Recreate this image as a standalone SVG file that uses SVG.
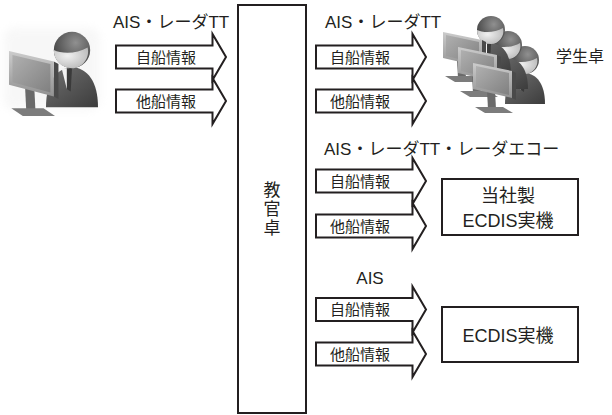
<svg xmlns="http://www.w3.org/2000/svg" width="612" height="415" viewBox="0 0 612 415">
  <style>
    .ln{fill:none;stroke:#231f20;stroke-width:2;stroke-linejoin:miter}
    .box{fill:#fff;stroke:#231f20;stroke-width:2}
    text{font-family:"Liberation Sans","Noto Sans CJK JP",sans-serif;fill:#231f20}
    .t17{font-size:17px}
    .t16{font-size:16px}
    .t15{font-size:15px}
    .t18{font-size:18px}
    .mid{text-anchor:middle}
  </style>
  <defs>
    <!-- block arrow, origin at the left end of the shaft centre line -->
    <path id="arrow" class="ln" d="M0,-11.5 H96.5 V-23 L110,0 L96.5,23 V11.5 H0 Z"/>

    <linearGradient id="gScreen" x1="0" y1="0" x2="1" y2="1">
      <stop offset="0" stop-color="#b0b0b0"/>
      <stop offset="1" stop-color="#808080"/>
    </linearGradient>
    <linearGradient id="gFrame" x1="0" y1="0" x2="0" y2="1">
      <stop offset="0" stop-color="#cccccc"/>
      <stop offset="1" stop-color="#929292"/>
    </linearGradient>
    <radialGradient id="gHair" cx="0.6" cy="0.3" r="0.7">
      <stop offset="0" stop-color="#909090"/>
      <stop offset="1" stop-color="#404040"/>
    </radialGradient>
    <radialGradient id="gFace" cx="0.4" cy="0.4" r="0.7">
      <stop offset="0" stop-color="#f0f0f0"/>
      <stop offset="1" stop-color="#b8b8b8"/>
    </radialGradient>
    <linearGradient id="gSuit" x1="0" y1="0" x2="1" y2="1">
      <stop offset="0" stop-color="#707070"/>
      <stop offset="1" stop-color="#3c3c3c"/>
    </linearGradient>
    <filter id="soft" x="-20%" y="-20%" width="140%" height="140%">
      <feGaussianBlur stdDeviation="4"/>
    </filter>

    <!-- monitor seen at an angle, with stand -->
    <g id="monitor">
      <polygon points="14,28 22,28 23,46 15,46" fill="#6a6a6a"/>
      <polygon points="2,44 30,44 40,50 12,50" fill="#7c7c7c"/>
      <polygon points="39,8 43,10 43,37 39,35" fill="#4a4a4a"/>
      <polygon points="0,0 39,8 39,35 0,26" fill="url(#gFrame)"/>
      <polygon points="3,3 36,10 36,32 3,24" fill="url(#gScreen)"/>
    </g>

    <!-- person: head centred on the origin -->
    <g id="person">
      <path d="M-20,44 C-20,24 -12,14 0,13 C12,14 20,24 20,44 Z" fill="url(#gSuit)"/>
      <polygon points="-8,14 -2,14 -4,30" fill="#f2f2f2"/>
      <polygon points="-4,14 0,14 -1,32 -4,30" fill="#3a3a3a"/>
      <circle r="14" fill="url(#gHair)"/>
      <path d="M-14,0 C-8,3 4,3 12,-2 C14,6 8,14 0,14 C-8,14 -14,8 -14,0 Z" fill="url(#gFace)"/>
    </g>
  </defs>

  <rect width="612" height="415" fill="#fff"/>

  <!-- instructor station (left icon) -->
  <g id="instructor-icon">
    <rect x="4" y="28" width="96" height="82" rx="10" fill="#ececec" filter="url(#soft)" opacity="0.4"/>
    <g transform="translate(72,50) scale(1.3)">
      <use href="#person"/>
    </g>
    <g transform="translate(9,51) scale(1.15,1.3)">
      <use href="#monitor"/>
    </g>
  </g>

  <!-- instructor desk -->
  <g id="instructor-desk">
    <rect class="box" x="238" y="5" width="68" height="408"/>
    <text class="t17 mid" x="272" y="196">教</text>
    <text class="t17 mid" x="272" y="215">官</text>
    <text class="t17 mid" x="272" y="234">卓</text>
  </g>

  <!-- student stations -->
  <g id="student-desks">
    <use href="#person" transform="translate(525,60)"/>
    <use href="#person" transform="translate(508,45)"/>
    <use href="#person" transform="translate(491,30)"/>
    <use href="#monitor" transform="translate(443,32)"/>
    <use href="#monitor" transform="translate(458,47)"/>
    <use href="#monitor" transform="translate(473,63)"/>
    <text class="t16" x="556" y="62">学生卓</text>
  </g>

  <!-- in-house ECDIS unit -->
  <g id="ecdis-own">
    <rect class="box" x="442" y="179" width="136" height="56"/>
    <text class="t18 mid" x="508" y="201.5">当社製</text>
    <text class="t18 mid" x="508" y="226.5">ECDIS実機</text>
  </g>

  <!-- third-party ECDIS unit -->
  <g id="ecdis-other">
    <rect class="box" x="442" y="307" width="136" height="55"/>
    <text class="t18 mid" x="508" y="341.5">ECDIS実機</text>
  </g>

  <!-- data links -->
  <g id="connectors">
    <!-- instructor icon -> desk -->
    <text class="t17" x="113" y="28">AIS・レーダTT</text>
    <use href="#arrow" x="116" y="57"/>
    <use href="#arrow" x="116" y="101"/>
    <text class="t15 mid" x="166" y="62.5">自船情報</text>
    <text class="t15 mid" x="166" y="106.5">他船情報</text>

    <!-- desk -> student stations -->
    <text class="t17" x="325" y="28">AIS・レーダTT</text>
    <use href="#arrow" x="316" y="57"/>
    <use href="#arrow" x="316" y="101"/>
    <text class="t15 mid" x="360" y="62.5">自船情報</text>
    <text class="t15 mid" x="360" y="106.5">他船情報</text>

    <!-- desk -> in-house ECDIS -->
    <text class="t17" x="324" y="155">AIS・レーダTT・レーダエコー</text>
    <use href="#arrow" x="316" y="181"/>
    <use href="#arrow" x="316" y="226"/>
    <text class="t15 mid" x="360" y="186.5">自船情報</text>
    <text class="t15 mid" x="360" y="231.5">他船情報</text>

    <!-- desk -> third-party ECDIS -->
    <text class="t17 mid" x="370" y="284">AIS</text>
    <use href="#arrow" x="316" y="309.5"/>
    <use href="#arrow" x="316" y="354"/>
    <text class="t15 mid" x="360" y="315">自船情報</text>
    <text class="t15 mid" x="360" y="359.5">他船情報</text>
  </g>
</svg>
